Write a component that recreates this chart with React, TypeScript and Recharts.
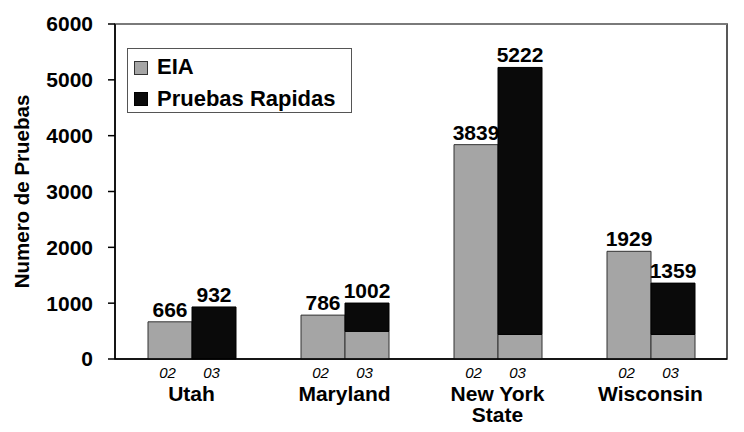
import React from "react";
import { BarChart, Bar, XAxis, YAxis, LabelList, ReferenceArea, ReferenceLine } from "recharts";

const categories = ["Utah", "Maryland", "New York State", "Wisconsin"];
const eia02 = [666, 786, 3839, 1929];
const eia03 = [0, 495, 440, 440];
const rapidas03 = [932, 507, 4782, 919];
const total03Labels = [932, 1002, 5222, 1359];
const yearLabels = ["02", "03"];
const yTicks = [0, 1000, 2000, 3000, 4000, 5000, 6000];
const legendItems = ["EIA", "Pruebas Rapidas"];

const GRAY = "#a5a5a5";
const BLACK = "#0a0a0a";
const FONT = "'Liberation Sans', Arial, sans-serif";

const data = categories.map((c, i) => ({
  name: c,
  eia02: eia02[i],
  eia03: eia03[i],
  rapidas03: rapidas03[i],
  total03: total03Labels[i],
}));

const splitLabel = (s: string): string[] => {
  if (s.length > 10) {
    const idx = s.lastIndexOf(" ");
    return [s.slice(0, idx), s.slice(idx + 1)];
  }
  return [s];
};

const XTick = (props: any) => {
  const { x, y, payload } = props;
  const lines = splitLabel(String(payload.value));
  return (
    <g>
      <text x={x - 24} y={y + 19} textAnchor="middle" fontSize={15} fontStyle="italic" fontFamily={FONT} fill="#000">
        {yearLabels[0]}
      </text>
      <text x={x + 20} y={y + 19} textAnchor="middle" fontSize={15} fontStyle="italic" fontFamily={FONT} fill="#000">
        {yearLabels[1]}
      </text>
      {lines.map((l, i) => (
        <text key={i} x={x} y={y + 42 + i * 21} textAnchor="middle" fontSize={21} fontWeight="bold" fontFamily={FONT} fill="#000">
          {l}
        </text>
      ))}
    </g>
  );
};

const LegendBox = () => (
  <svg width={226} height={66} style={{ position: "absolute", left: 127, top: 48 }}>
    <rect x={0.5} y={0.5} width={224} height={64} fill="#fff" stroke="#555" strokeWidth={1} />
    <rect x={7.5} y={13.5} width={13} height={13} fill={GRAY} stroke="#333" strokeWidth={1} />
    <text x={30} y={26} fontSize={22} fontWeight="bold" fontFamily={FONT} fill="#000">{legendItems[0]}</text>
    <rect x={7.5} y={44.5} width={13} height={13} fill={BLACK} stroke="#000" strokeWidth={1} />
    <text x={30} y={58} fontSize={22} fontWeight="bold" fontFamily={FONT} fill="#000">{legendItems[1]}</text>
  </svg>
);

const labelStyle = { fontSize: 21, fontWeight: "bold", fontFamily: FONT, fill: "#000" } as any;

export default function App() {
  return (
    <div style={{ position: "absolute", left: 0, top: 0, width: 744, height: 432, background: "#fff", fontFamily: FONT }}>
      <BarChart
        width={744}
        height={432}
        data={data}
        margin={{ top: 24, right: 17, bottom: 0, left: 0 }}
        barSize={44}
        barGap={0}
      >
        <ReferenceArea y1={0} y2={6000} fill="none" fillOpacity={0} stroke="#222" strokeWidth={1.5} ifOverflow="visible" />
        <ReferenceLine y={6000} stroke="#7a7a7a" strokeWidth={2} ifOverflow="visible" />
        <XAxis
          dataKey="name"
          height={73}
          stroke="#000"
          strokeWidth={1.5}
          tickLine={false}
          tickSize={0}
          tickMargin={0}
          interval={0}
          tick={<XTick />}
        />
        <YAxis
          width={115}
          domain={[0, 6000]}
          ticks={yTicks}
          interval={0}
          stroke="#000"
          strokeWidth={1.5}
          tickSize={7}
          tickMargin={15}
          tick={{ fontSize: 21, fontWeight: "bold", fontFamily: FONT, fill: "#000" }}
          label={{
            value: "Numero de Pruebas",
            angle: -90,
            position: "insideLeft",
            offset: 22,
            style: { textAnchor: "middle", fontSize: 20.5, fontWeight: "bold", fontFamily: FONT, fill: "#000" },
          }}
        />
        <Bar dataKey="eia02" stackId="a" fill={GRAY} stroke="#333" strokeWidth={1} isAnimationActive={false}>
          <LabelList dataKey="eia02" position="top" offset={5} style={labelStyle} />
        </Bar>
        <Bar dataKey="eia03" stackId="b" fill={GRAY} stroke="#333" strokeWidth={1} isAnimationActive={false} />
        <Bar dataKey="rapidas03" stackId="b" fill={BLACK} stroke="#000" strokeWidth={1} isAnimationActive={false}>
          <LabelList dataKey="total03" position="top" offset={5} style={labelStyle} />
        </Bar>
      </BarChart>
      <LegendBox />
    </div>
  );
}
